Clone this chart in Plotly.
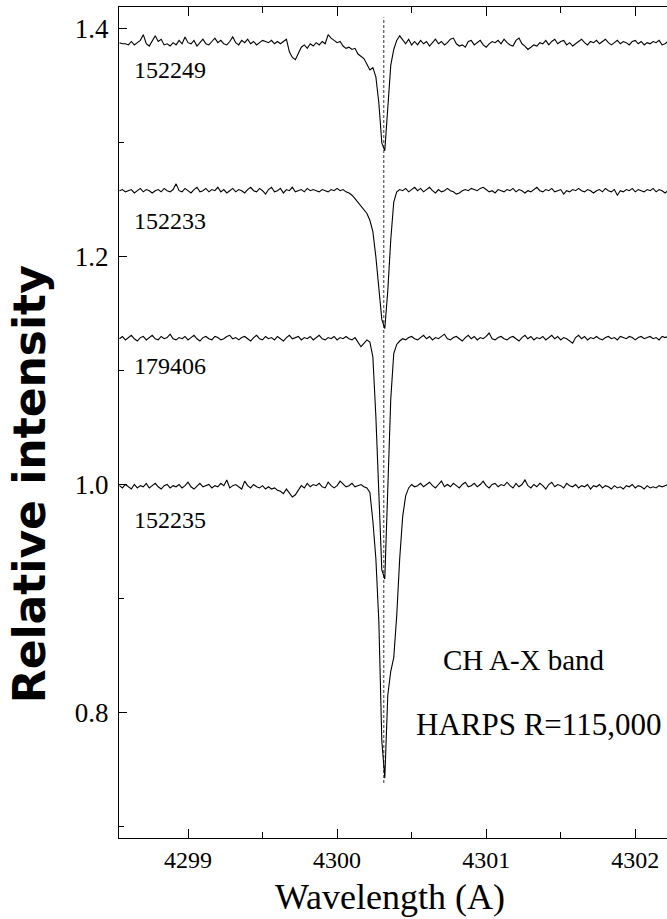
import numpy as np
import plotly.graph_objects as go

# Wavelength sampling grid (Angstrom), 0.02 A steps
wl_start, wl_step, n_pts = 4298.54, 0.02, 185
wavelength = np.round(wl_start + wl_step * np.arange(n_pts), 3)

hd152249 = [
    1.388,1.387,1.387,1.386,1.389,1.386,1.388,1.390,1.395,1.387,
    1.385,1.390,1.394,1.389,1.391,1.386,1.387,1.385,1.388,1.386,
    1.390,1.387,1.393,1.388,1.387,1.390,1.385,1.388,1.391,1.387,
    1.386,1.389,1.392,1.388,1.390,1.387,1.386,1.389,1.393,1.388,
    1.386,1.390,1.388,1.391,1.387,1.389,1.386,1.388,1.390,1.389,
    1.388,1.390,1.387,1.389,1.387,1.389,1.391,1.380,1.375,1.373,
    1.379,1.384,1.386,1.383,1.387,1.385,1.388,1.386,1.389,1.387,
    1.395,1.392,1.390,1.388,1.389,1.385,1.383,1.384,1.382,1.383,
    1.378,1.376,1.374,1.369,1.364,1.366,1.358,1.335,1.300,1.293,
    1.330,1.368,1.382,1.390,1.394,1.390,1.387,1.391,1.386,1.389,
    1.386,1.390,1.387,1.389,1.385,1.388,1.391,1.387,1.389,1.386,
    1.388,1.391,1.392,1.387,1.385,1.386,1.384,1.389,1.390,1.386,
    1.388,1.390,1.386,1.384,1.387,1.389,1.388,1.390,1.387,1.391,
    1.388,1.386,1.385,1.390,1.392,1.387,1.385,1.382,1.384,1.386,
    1.385,1.388,1.387,1.390,1.386,1.389,1.391,1.387,1.389,1.390,
    1.386,1.388,1.385,1.387,1.389,1.391,1.388,1.386,1.389,1.388,
    1.390,1.387,1.389,1.391,1.388,1.386,1.388,1.390,1.387,1.389,
    1.388,1.386,1.389,1.390,1.387,1.389,1.386,1.388,1.387,1.389,
    1.388,1.390,1.386,1.387,1.389,
]

hd152233 = [
    1.258,1.259,1.257,1.258,1.259,1.256,1.258,1.260,1.257,1.259,
    1.258,1.256,1.258,1.259,1.257,1.260,1.258,1.257,1.259,1.264,
    1.258,1.257,1.260,1.258,1.256,1.259,1.261,1.257,1.258,1.260,
    1.257,1.259,1.258,1.261,1.257,1.259,1.256,1.258,1.260,1.257,
    1.259,1.258,1.256,1.259,1.261,1.258,1.257,1.260,1.258,1.255,
    1.259,1.261,1.257,1.258,1.260,1.256,1.259,1.258,1.261,1.257,
    1.258,1.259,1.257,1.260,1.258,1.259,1.258,1.257,1.259,1.258,
    1.257,1.259,1.258,1.260,1.258,1.259,1.257,1.256,1.254,1.251,
    1.248,1.245,1.242,1.238,1.232,1.222,1.200,1.172,1.145,1.137,
    1.170,1.215,1.248,1.257,1.259,1.258,1.260,1.257,1.259,1.261,
    1.258,1.260,1.257,1.259,1.261,1.258,1.256,1.259,1.257,1.258,
    1.260,1.258,1.257,1.255,1.256,1.258,1.259,1.258,1.260,1.259,
    1.258,1.260,1.261,1.259,1.257,1.258,1.256,1.259,1.258,1.257,
    1.259,1.258,1.260,1.257,1.259,1.258,1.256,1.258,1.257,1.259,
    1.261,1.258,1.257,1.259,1.258,1.260,1.257,1.258,1.259,1.255,
    1.258,1.257,1.259,1.258,1.260,1.258,1.257,1.259,1.258,1.256,
    1.258,1.259,1.257,1.260,1.258,1.257,1.259,1.254,1.258,1.257,
    1.259,1.258,1.260,1.257,1.259,1.258,1.257,1.259,1.258,1.260,
    1.257,1.259,1.258,1.256,1.258,
]

hd179406 = [
    1.128,1.130,1.127,1.129,1.131,1.128,1.126,1.129,1.130,1.127,
    1.129,1.131,1.128,1.127,1.130,1.128,1.129,1.132,1.128,1.127,
    1.129,1.128,1.130,1.127,1.129,1.131,1.128,1.126,1.129,1.130,
    1.128,1.127,1.130,1.129,1.127,1.128,1.130,1.131,1.128,1.129,
    1.127,1.129,1.130,1.128,1.126,1.129,1.131,1.128,1.127,1.130,
    1.128,1.129,1.127,1.130,1.128,1.126,1.129,1.131,1.128,1.129,
    1.130,1.127,1.129,1.128,1.130,1.127,1.129,1.131,1.128,1.127,
    1.129,1.128,1.130,1.127,1.129,1.128,1.130,1.128,1.127,1.129,
    1.125,1.121,1.124,1.127,1.125,1.112,1.060,0.985,0.925,0.917,
    0.990,1.075,1.115,1.123,1.126,1.128,1.127,1.129,1.130,1.128,
    1.127,1.129,1.131,1.128,1.130,1.127,1.129,1.128,1.130,1.132,
    1.128,1.127,1.129,1.130,1.128,1.126,1.129,1.131,1.128,1.130,
    1.127,1.129,1.128,1.130,1.133,1.128,1.127,1.129,1.130,1.128,
    1.127,1.129,1.130,1.128,1.126,1.129,1.131,1.128,1.130,1.127,
    1.129,1.128,1.130,1.127,1.129,1.131,1.128,1.130,1.127,1.129,
    1.128,1.126,1.124,1.129,1.131,1.128,1.130,1.127,1.129,1.128,
    1.130,1.128,1.127,1.129,1.130,1.128,1.129,1.127,1.130,1.129,
    1.128,1.130,1.129,1.127,1.129,1.130,1.128,1.129,1.130,1.128,
    1.129,1.127,1.130,1.129,1.130,
]

hd152235 = [
    0.999,0.997,1.000,0.998,0.996,1.000,0.997,0.999,0.998,1.001,
    0.997,0.999,1.001,0.998,0.996,0.999,1.000,0.997,0.999,0.998,
    1.000,0.997,0.999,1.002,0.998,0.996,0.999,1.001,0.998,0.999,
    1.000,0.997,0.999,0.998,1.001,0.999,1.004,0.997,0.999,1.000,
    0.998,0.996,1.003,0.999,0.997,1.000,0.998,0.997,0.999,0.996,
    0.998,0.996,0.997,0.995,0.994,0.992,0.996,0.993,0.989,0.991,
    0.995,0.999,0.997,1.001,0.998,1.000,0.999,1.001,0.998,0.997,
    1.002,0.999,0.997,0.999,1.003,1.000,0.998,0.999,1.001,0.998,
    0.999,1.000,0.998,0.997,0.993,0.968,0.935,0.880,0.775,0.742,
    0.815,0.836,0.848,0.885,0.935,0.972,0.990,0.997,1.000,0.998,
    0.999,1.001,0.998,1.000,1.002,0.999,0.997,1.000,1.003,0.998,
    1.000,0.998,1.001,0.999,0.997,1.000,1.002,0.998,0.999,1.001,
    0.998,1.000,1.003,0.999,0.997,1.000,1.001,0.998,1.000,0.999,
    1.002,0.999,0.997,1.001,0.998,1.000,1.004,0.999,0.997,1.000,
    0.998,1.001,0.999,0.996,1.000,1.002,0.998,1.000,0.999,0.997,
    1.001,0.999,0.998,1.000,0.997,0.999,0.998,1.000,0.996,0.999,
    0.998,1.000,0.997,0.999,0.998,0.996,0.999,0.997,0.998,0.996,
    0.999,0.998,1.000,0.997,0.999,0.998,0.996,0.999,0.997,0.998,
    0.997,0.999,0.998,0.999,1.000,
]

star_names = ["152249", "152233", "179406", "152235"]
series = [hd152249, hd152233, hd179406, hd152235]
label_wavelength = 4298.625
label_levels = [1.364, 1.231, 1.104, 0.969]

ch_line = 4300.313
ch_line_span = [0.738, 1.41]

x_ticks = [4299, 4300, 4301, 4302]
y_ticks = [0.8, 1.0, 1.2, 1.4]

SERIF = "Liberation Serif"

fig = go.Figure()
fig.add_trace(go.Scatter(x=[ch_line, ch_line], y=ch_line_span, mode="lines",
                         line=dict(color="#555555", width=1.2, dash="3px,2px"),
                         hoverinfo="skip", showlegend=False))
for name, vals in zip(star_names, series):
    fig.add_trace(go.Scatter(x=wavelength, y=vals, mode="lines", name=name,
                             line=dict(color="black", width=1.1),
                             showlegend=False))

for name, lev in zip(star_names, label_levels):
    fig.add_annotation(x=label_wavelength, y=lev, text=name, showarrow=False,
                       xanchor="left", yanchor="middle",
                       font=dict(family=SERIF, size=24, color="black"))

fig.add_annotation(x=4301.253, y=0.846, text="CH A-X band", showarrow=False,
                   xanchor="center", yanchor="middle",
                   font=dict(family=SERIF, size=29, color="black"))
fig.add_annotation(x=4301.354, y=0.789, text="HARPS R=115,000", showarrow=False,
                   xanchor="center", yanchor="middle",
                   font=dict(family=SERIF, size=31, color="black"))

fig.add_annotation(xref="paper", yref="paper", x=0.4945, y=-0.0972,
                   text="Wavelength (A)", showarrow=False,
                   xanchor="center", yanchor="bottom",
                   font=dict(family=SERIF, size=36, color="black"))
fig.add_annotation(xref="paper", yref="paper", x=-0.162, y=0.426,
                   text="<b>Relative intensity</b>", showarrow=False, textangle=-90,
                   xanchor="center", yanchor="middle",
                   font=dict(family="DejaVu Sans", size=44, color="black"))

fig.update_layout(
    width=667, height=919,
    margin=dict(l=119, r=0, t=7, b=81),
    paper_bgcolor="white", plot_bgcolor="white",
    showlegend=False,
    xaxis=dict(range=[4298.537, 4302.213], tickvals=x_ticks,
               ticktext=[str(v) for v in x_ticks],
               ticks="inside", ticklen=9, tickwidth=1.2, tickcolor="black",
               showline=True, linecolor="black", linewidth=1.3, mirror="ticks",
               showgrid=False, zeroline=False,
               tickfont=dict(family=SERIF, size=24, color="black"),
               minor=dict(dtick=0.5, tick0=4299, ticks="inside", ticklen=6,
                          tickcolor="black", tickwidth=1.2, showgrid=False)),
    yaxis=dict(range=[0.6896, 1.4193], tickvals=y_ticks,
               ticktext=["0.8", "1.0", "1.2", "1.4"],
               ticks="inside", ticklen=8, tickwidth=1.2, tickcolor="black",
               showline=True, linecolor="black", linewidth=1.3,
               showgrid=False, zeroline=False, ticklabelstandoff=4,
               tickfont=dict(family=SERIF, size=27, color="black"),
               minor=dict(dtick=0.1, tick0=0.8, ticks="inside", ticklen=5,
                          tickcolor="black", tickwidth=1.2, showgrid=False)),
)

fig.write_html("out.html", config={"displayModeBar": False},
               post_script="document.body.style.margin='0';")
